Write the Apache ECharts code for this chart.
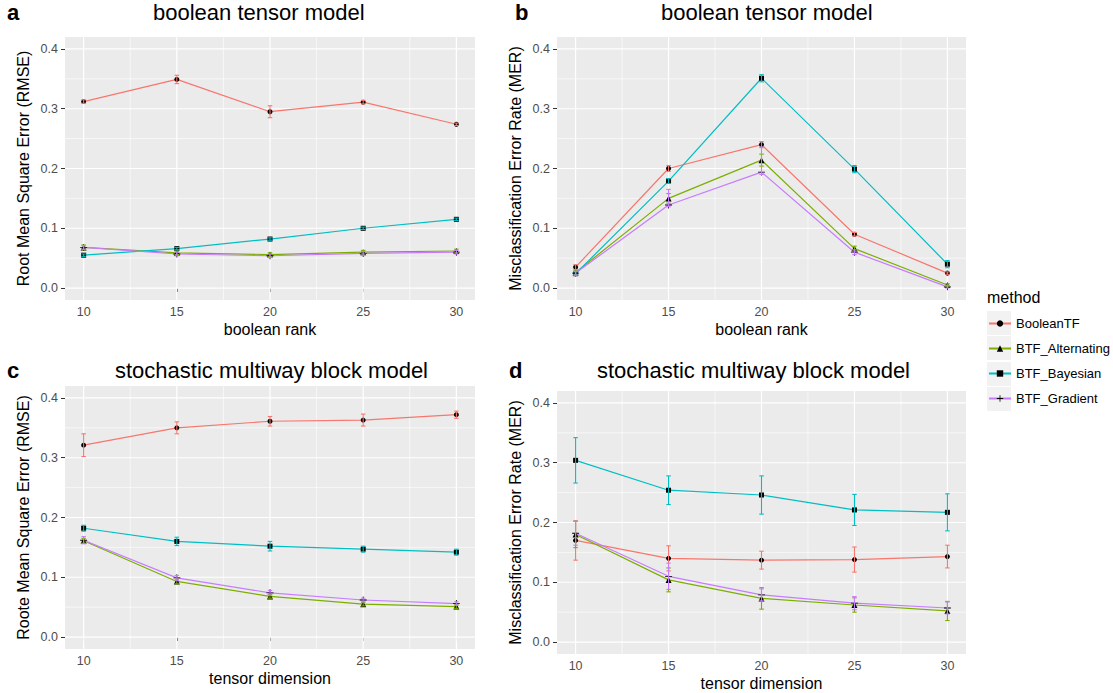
<!DOCTYPE html>
<html>
<head>
<meta charset="utf-8">
<script src="https://cdn.jsdelivr.net/npm/echarts@6/dist/echarts.min.js"></script>
<style>
  html, body { margin: 0; padding: 0; background: #fff; }
  #chart { width: 1113px; height: 693px; }
</style>
</head>
<body>
<div id="chart"></div>
<script>
// ---------------- data ----------------
const methods = ['BooleanTF', 'BTF_Alternating', 'BTF_Bayesian', 'BTF_Gradient'];
const booleanRank = [10, 15, 20, 25, 30];
const tensorDimension = [10, 15, 20, 25, 30];
const xTickLabels = [10, 15, 20, 25, 30];
const yTickLabels = [0, 0.1, 0.2, 0.3, 0.4];

// panel a: RMSE vs boolean rank
const aBooleanTF = [0.312, 0.349, 0.295, 0.311, 0.274];
const aBooleanTFErr = [0.003, 0.007, 0.010, 0.003, 0.002];
const aAlternating = [0.068, 0.059, 0.056, 0.060, 0.062];
const aAlternatingErr = [0.004, 0.003, 0.003, 0.003, 0.003];
const aBayesian = [0.055, 0.066, 0.082, 0.100, 0.115];
const aBayesianErr = [0.002, 0.002, 0.002, 0.002, 0.002];
const aGradient = [0.068, 0.057, 0.054, 0.058, 0.060];
const aGradientErr = [0.003, 0.003, 0.003, 0.003, 0.003];

// panel b: MER vs boolean rank
const bBooleanTF = [0.035, 0.200, 0.240, 0.090, 0.025];
const bBooleanTFErr = [0.004, 0.005, 0.005, 0.003, 0.002];
const bAlternating = [0.026, 0.150, 0.214, 0.066, 0.005];
const bAlternatingErr = [0.003, 0.008, 0.010, 0.004, 0.002];
const bBayesian = [0.024, 0.179, 0.351, 0.199, 0.040];
const bBayesianErr = [0.003, 0.004, 0.006, 0.006, 0.006];
const bGradient = [0.025, 0.139, 0.194, 0.060, 0.002];
const bGradientErrUp = [0.003, 0.026, 0.042, 0.004, 0.002];
const bGradientErrDown = [0.003, 0.003, 0.004, 0.004, 0.002];

// panel c: RMSE vs tensor dimension
const cBooleanTF = [0.321, 0.350, 0.361, 0.363, 0.372];
const cBooleanTFErr = [0.019, 0.010, 0.008, 0.010, 0.006];
const cAlternating = [0.161, 0.093, 0.068, 0.055, 0.051];
const cAlternatingErr = [0.004, 0.004, 0.003, 0.003, 0.003];
const cBayesian = [0.182, 0.160, 0.152, 0.147, 0.142];
const cBayesianErr = [0.005, 0.007, 0.008, 0.005, 0.005];
const cGradient = [0.162, 0.099, 0.074, 0.062, 0.056];
const cGradientErr = [0.006, 0.004, 0.004, 0.003, 0.003];

// panel d: MER vs tensor dimension
const dBooleanTF = [0.170, 0.140, 0.137, 0.138, 0.143];
const dBooleanTFErr = [0.033, 0.021, 0.015, 0.021, 0.019];
const dAlternating = [0.180, 0.104, 0.073, 0.062, 0.052];
const dAlternatingErr = [0.022, 0.020, 0.018, 0.012, 0.016];
const dBayesian = [0.304, 0.254, 0.246, 0.221, 0.217];
const dBayesianErr = [0.038, 0.024, 0.032, 0.026, 0.031];
const dGradient = [0.182, 0.110, 0.079, 0.065, 0.057];
const dGradientErr = [0.020, 0.022, 0.010, 0.011, 0.010];

// ---------------- styling ----------------
const colors = {
  BooleanTF: '#F8766D', BTF_Alternating: '#7CAE00',
  BTF_Bayesian: '#00BFC4', BTF_Gradient: '#C77CFF'
};
const plusPath = 'path://M-0.12,-1 L0.12,-1 L0.12,-0.12 L1,-0.12 L1,0.12 L0.12,0.12 L0.12,1 L-0.12,1 L-0.12,0.12 L-1,0.12 L-1,-0.12 L-0.12,-0.12 Z';
const symbols = {
  BooleanTF: ['circle', 5], BTF_Alternating: ['triangle', 6],
  BTF_Bayesian: ['rect', 5], BTF_Gradient: [plusPath, 7]
};
const FONT = '"Liberation Sans", Arial, Helvetica, sans-serif';

const panels = [
  { grid: { left: 65, top: 37, width: 410, height: 263 }, x: booleanRank,
    xName: 'boolean rank', yName: 'Root Mean Square Error (RMSE)',
    data: {
      BooleanTF: [aBooleanTF, aBooleanTFErr, aBooleanTFErr],
      BTF_Alternating: [aAlternating, aAlternatingErr, aAlternatingErr],
      BTF_Bayesian: [aBayesian, aBayesianErr, aBayesianErr],
      BTF_Gradient: [aGradient, aGradientErr, aGradientErr] } },
  { grid: { left: 557, top: 37, width: 409, height: 263 }, x: booleanRank,
    xName: 'boolean rank', yName: 'Misclassification Error Rate (MER)',
    data: {
      BooleanTF: [bBooleanTF, bBooleanTFErr, bBooleanTFErr],
      BTF_Alternating: [bAlternating, bAlternatingErr, bAlternatingErr],
      BTF_Bayesian: [bBayesian, bBayesianErr, bBayesianErr],
      BTF_Gradient: [bGradient, bGradientErrDown, bGradientErrUp] } },
  { grid: { left: 65, top: 386, width: 410, height: 263 }, x: tensorDimension,
    xName: 'tensor dimension', yName: 'Roote Mean Square Error (RMSE)',
    data: {
      BooleanTF: [cBooleanTF, cBooleanTFErr, cBooleanTFErr],
      BTF_Alternating: [cAlternating, cAlternatingErr, cAlternatingErr],
      BTF_Bayesian: [cBayesian, cBayesianErr, cBayesianErr],
      BTF_Gradient: [cGradient, cGradientErr, cGradientErr] } },
  { grid: { left: 557, top: 391, width: 409, height: 263 }, x: tensorDimension,
    xName: 'tensor dimension', yName: 'Misclassification Error Rate (MER)',
    data: {
      BooleanTF: [dBooleanTF, dBooleanTFErr, dBooleanTFErr],
      BTF_Alternating: [dAlternating, dAlternatingErr, dAlternatingErr],
      BTF_Bayesian: [dBayesian, dBayesianErr, dBayesianErr],
      BTF_Gradient: [dGradient, dGradientErr, dGradientErr] } }
];

const xMajor = xTickLabels;
const xMinor = [12.5, 17.5, 22.5, 27.5];
const yMajor = yTickLabels;
const yMinor = [0.05, 0.15, 0.25, 0.35];

const grids = [], xAxes = [], yAxes = [], series = [];

panels.forEach((p, i) => {
  grids.push(Object.assign({ show: true, backgroundColor: '#EBEBEB', borderWidth: 0, containLabel: false }, p.grid));
  xAxes.push({
    type: 'value', gridIndex: i, min: 9, max: 31,
    name: p.xName, nameLocation: 'middle', nameGap: 21,
    nameTextStyle: { fontFamily: FONT, fontSize: 16, color: '#000' },
    axisLine: { show: false },
    axisTick: { show: true, customValues: xTickLabels, length: 4, lineStyle: { color: '#333', width: 1 } },
    axisLabel: { customValues: xTickLabels, margin: 5, fontFamily: FONT, fontSize: 12.5, color: '#4D4D4D' },
    splitLine: { show: false }
  });
  yAxes.push({
    type: 'value', gridIndex: i, min: -0.02, max: 0.42,
    name: p.yName, nameLocation: 'middle', nameGap: 34,
    nameTextStyle: { fontFamily: FONT, fontSize: 16, color: '#000' },
    axisLine: { show: false },
    axisTick: { show: true, customValues: yTickLabels, length: 4, lineStyle: { color: '#333', width: 1 } },
    axisLabel: { customValues: yTickLabels, margin: 7, fontFamily: FONT, fontSize: 12.5, color: '#4D4D4D',
      formatter: v => v.toFixed(1) },
    splitLine: { show: false }
  });

  // gridlines (white, major + minor)
  series.push({
    type: 'custom', name: 'grid' + i, xAxisIndex: i, yAxisIndex: i, z: 1, silent: true,
    data: [[20, 0.2]],
    renderItem: (params, api) => {
      const cs = params.coordSys;
      const children = [];
      const vline = (v, w) => {
        const px = api.coord([v, 0])[0];
        children.push({ type: 'line', shape: { x1: px, y1: cs.y, x2: px, y2: cs.y + cs.height },
          style: { stroke: '#fff', lineWidth: w } });
      };
      const hline = (v, w) => {
        const py = api.coord([20, v])[1];
        children.push({ type: 'line', shape: { x1: cs.x, y1: py, x2: cs.x + cs.width, y2: py },
          style: { stroke: '#fff', lineWidth: w } });
      };
      yMinor.forEach(v => hline(v, 0.6));
      xMinor.forEach(v => vline(v, 0.6));
      yMajor.forEach(v => hline(v, 1.2));
      xMajor.forEach(v => vline(v, 1.2));
      return { type: 'group', children };
    }
  });

  methods.forEach(m => {
    const [vals, errDown, errUp] = p.data[m];
    series.push({
      type: 'line', name: m, xAxisIndex: i, yAxisIndex: i, z: 3,
      data: p.x.map((x, k) => [x, vals[k]]),
      symbol: symbols[m][0], symbolSize: symbols[m][1], showSymbol: true,
      itemStyle: { color: '#000' },
      lineStyle: { color: colors[m], width: 1.2 },
      emphasis: { disabled: true }, silent: true
    });
    series.push({
      type: 'custom', name: m + ' error', xAxisIndex: i, yAxisIndex: i, z: 4, silent: true,
      data: p.x.map((x, k) => [x, vals[k] - errDown[k], vals[k] + errUp[k]]),
      encode: { x: 0, y: [1, 2] },
      renderItem: (params, api) => {
        const x = api.value(0), lo = api.value(1), hi = api.value(2);
        const pLo = api.coord([x, lo]), pHi = api.coord([x, hi]);
        const xl = api.coord([x - 0.12, lo])[0], xr = api.coord([x + 0.12, lo])[0];
        const st = { stroke: colors[m], lineWidth: 1.1 };
        return { type: 'group', children: [
          { type: 'line', shape: { x1: pLo[0], y1: pLo[1], x2: pHi[0], y2: pHi[1] }, style: st },
          { type: 'line', shape: { x1: xl, y1: pLo[1], x2: xr, y2: pLo[1] }, style: st },
          { type: 'line', shape: { x1: xl, y1: pHi[1], x2: xr, y2: pHi[1] }, style: st }
        ] };
      }
    });
  });
});

const titleStyle = { fontFamily: FONT, fontSize: 22, fontWeight: 'normal', color: '#000' };
const letterStyle = { fontFamily: FONT, fontSize: 22, fontWeight: 'bold', color: '#000' };
const titles = [
  { text: 'a', left: 7, top: 1, padding: 0, textStyle: letterStyle },
  { text: 'b', left: 515, top: 1, padding: 0, textStyle: letterStyle },
  { text: 'c', left: 7, top: 359, padding: 0, textStyle: letterStyle },
  { text: 'd', left: 509, top: 359, padding: 0, textStyle: letterStyle },
  { text: 'boolean tensor model', left: 153, top: 1, padding: 0, textStyle: titleStyle },
  { text: 'boolean tensor model', left: 661, top: 1, padding: 0, textStyle: titleStyle },
  { text: 'stochastic multiway block model', left: 115, top: 359, padding: 0, textStyle: titleStyle },
  { text: 'stochastic multiway block model', left: 597, top: 359, padding: 0, textStyle: titleStyle },
  { text: 'method', left: 987, top: 289, padding: 0, textStyle: { fontFamily: FONT, fontSize: 16, fontWeight: 'normal', color: '#000' } }
];

const keyCenters = [323, 348, 374, 399];
const graphic = keyCenters.map(c => ({
  type: 'rect', left: 987, top: c - 12, z: 0,
  shape: { width: 24, height: 24 }, style: { fill: '#F2F2F2' }
}));

const chart = echarts.init(document.getElementById('chart'), null, { renderer: 'svg' });
chart.setOption({
  animation: false,
  backgroundColor: '#fff',
  title: titles,
  graphic: graphic,
  legend: {
    orient: 'vertical', left: 988, top: 317, padding: 0,
    itemWidth: 22, itemHeight: 8, itemGap: 12,
    data: methods.map(m => ({ name: m, itemStyle: { color: '#000' } })),
    textStyle: { fontFamily: FONT, fontSize: 13, color: '#000', padding: [0, 0, 0, 0] },
    selectedMode: false
  },
  grid: grids,
  xAxis: xAxes,
  yAxis: yAxes,
  series: series
});
</script>
</body>
</html>
